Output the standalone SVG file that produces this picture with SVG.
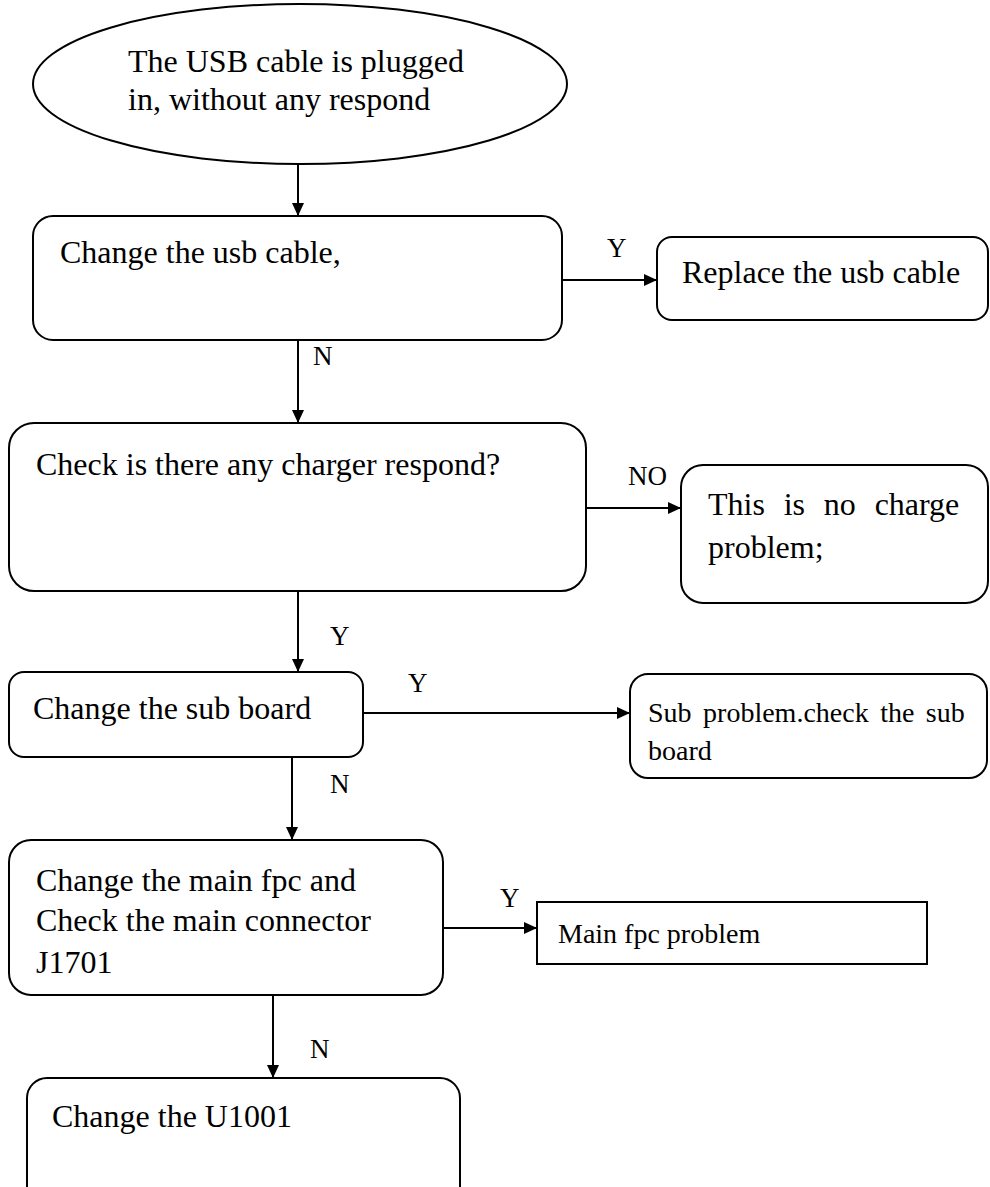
<svg xmlns="http://www.w3.org/2000/svg" width="990" height="1187" viewBox="0 0 990 1187">
<style>
.shape{fill:#fff;stroke:#000;stroke-width:2}
.t{font-family:"Liberation Serif","Times New Roman",serif;font-size:32px;fill:#000}
.s{font-family:"Liberation Serif","Times New Roman",serif;font-size:28px;fill:#000}
.l{font-family:"Liberation Serif","Times New Roman",serif;font-size:27px;fill:#000}
.c{fill:none;stroke:#000;stroke-width:2}
</style>
<defs>
<marker id="ah" markerUnits="userSpaceOnUse" markerWidth="14" markerHeight="12" refX="13" refY="6" orient="auto">
<path d="M0,0 L13,6 L0,12 z" fill="#000"/>
</marker>
</defs>
<rect width="990" height="1187" fill="#fff"/>
<g id="start">
<ellipse class="shape" cx="300" cy="84" rx="267" ry="80"/>
<text class="t" x="128" y="72">The USB cable is plugged</text>
<text class="t" x="128" y="110">in, without any respond</text>
</g>
<g id="b1">
<rect class="shape" x="33" y="216" width="529" height="124" rx="20"/>
<text class="t" x="60" y="263">Change the usb cable,</text>
</g>
<g id="replace">
<rect class="shape" x="657" y="237" width="331" height="83" rx="15"/>
<text class="t" x="682" y="283">Replace the usb cable</text>
</g>
<g id="b2">
<rect class="shape" x="9" y="423" width="577" height="168" rx="25"/>
<text class="t" x="36" y="475">Check is there any charger respond?</text>
</g>
<g id="nocharge">
<rect class="shape" x="681" y="465" width="307" height="138" rx="22"/>
<text class="t" x="708" y="515" word-spacing="10.8">This is no charge</text>
<text class="t" x="708" y="558">problem;</text>
</g>
<g id="b4">
<rect class="shape" x="9" y="672" width="354" height="85" rx="15"/>
<text class="t" x="33" y="719">Change the sub board</text>
</g>
<g id="sub">
<rect class="shape" x="630" y="674" width="357" height="104" rx="18"/>
<text class="s" x="648" y="722" word-spacing="4.5">Sub problem.check the sub</text>
<text class="s" x="648" y="760">board</text>
</g>
<g id="b5">
<rect class="shape" x="9" y="840" width="434" height="155" rx="22"/>
<text class="t" x="36" y="891">Change the main fpc and</text>
<text class="t" x="36" y="931">Check the main connector</text>
<text class="t" x="36" y="973">J1701</text>
</g>
<g id="fpc">
<rect class="shape" x="537" y="902" width="390" height="62"/>
<text class="s" x="558" y="943">Main fpc problem</text>
</g>
<g id="b6">
<rect class="shape" x="27" y="1078" width="433" height="130" rx="20"/>
<text class="t" x="52" y="1127">Change the U1001</text>
</g>
<g id="connectors">
<path class="c" d="M298,164 V216" marker-end="url(#ah)"/>
<path class="c" d="M562,280 H657" marker-end="url(#ah)"/>
<path class="c" d="M298,340 V423" marker-end="url(#ah)"/>
<path class="c" d="M586,508 H681" marker-end="url(#ah)"/>
<path class="c" d="M298,591 V672" marker-end="url(#ah)"/>
<path class="c" d="M363,713 H630" marker-end="url(#ah)"/>
<path class="c" d="M292,757 V840" marker-end="url(#ah)"/>
<path class="c" d="M443,928 H537" marker-end="url(#ah)"/>
<path class="c" d="M273,995 V1078" marker-end="url(#ah)"/>
<text class="l" x="607" y="257">Y</text>
<text class="l" x="313" y="365">N</text>
<text class="l" x="628" y="485">NO</text>
<text class="l" x="330" y="645">Y</text>
<text class="l" x="408" y="692">Y</text>
<text class="l" x="330" y="793">N</text>
<text class="l" x="500" y="907">Y</text>
<text class="l" x="310" y="1058">N</text>
</g>
</svg>
